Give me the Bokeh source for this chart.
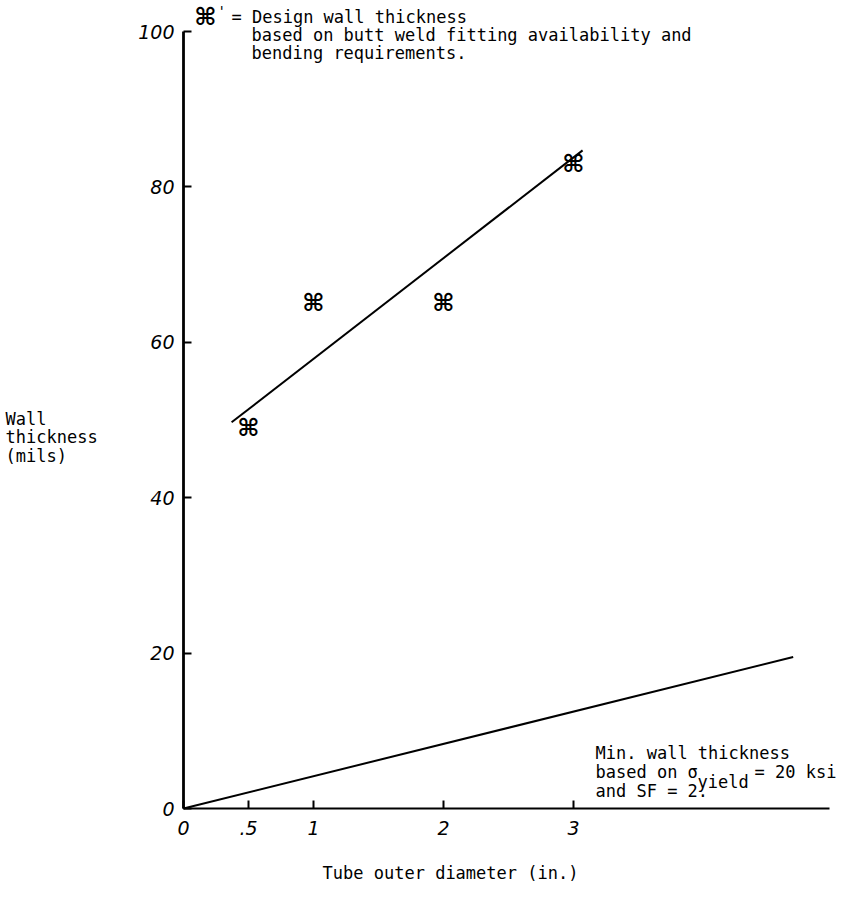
from bokeh.plotting import figure
from bokeh.models import Range1d, FixedTicker, Label, LinearAxis
from bokeh.core.properties import value
from bokeh.embed import file_html
from bokeh.resources import INLINE

# ---- data ----
x_ticks = [0, 0.5, 1, 2, 3]
x_tick_labels = {0: "0", 0.5: ".5", 1: "1", 2: "2", 3: "3"}
y_ticks = [0, 20, 40, 60, 80, 100]
y_tick_labels = {0: "0", 20: "20", 40: "40", 60: "60", 80: "80", 100: "100"}

design_od = [0.5, 1, 2, 3]            # tube outer diameter (in.)
design_wall = [49, 65, 65, 83]        # design wall thickness (mils)

fit_od = [0.37, 3.07]                 # hand-drawn line through design points
fit_wall = [49.7, 84.7]

min_od = [0, 4.69]                    # min. wall thickness, sigma_yield = 20 ksi, SF = 2
min_wall = [0, 19.5]

MONO = "DejaVu Sans Mono"
HAND = "DejaVu Sans"

W, H = 852, 886
X0, Y0 = 183.0, 808.0        # pixel position of the origin
SX, SY = 130.0, 7.77         # pixels per unit

p = figure(width=W, height=H, output_backend="svg", toolbar_location=None,
           x_axis_location=None, y_axis_location=None,
           x_range=Range1d(-X0 / SX, (W - X0) / SX),
           y_range=Range1d((Y0 - H) / SY, Y0 / SY),
           min_border_left=0, min_border_right=0,
           min_border_top=0, min_border_bottom=0)
p.outline_line_color = None
p.grid.visible = False
p.background_fill_color = "white"
p.border_fill_color = "white"

xaxis = LinearAxis(fixed_location=0, bounds=(0, 4.97))
yaxis = LinearAxis(fixed_location=0, bounds=(0, 100))
for ax, ticks, labels in ((xaxis, x_ticks, x_tick_labels),
                          (yaxis, y_ticks, y_tick_labels)):
    ax.ticker = FixedTicker(ticks=ticks)
    ax.major_label_overrides = labels
    ax.axis_line_color = "black"
    ax.major_tick_in = 8
    ax.major_tick_out = 0
    ax.major_tick_line_width = 2
    ax.minor_tick_line_color = None
    ax.major_label_text_font = HAND
    ax.major_label_text_font_style = "italic"
    ax.major_label_text_font_size = "19px"
    ax.major_label_text_color = "black"
xaxis.axis_line_width = 2.2
yaxis.axis_line_width = 2.8
xaxis.major_label_standoff = 12
yaxis.major_label_standoff = 9
p.add_layout(xaxis, "below")
p.add_layout(yaxis, "left")

# lines
p.line(fit_od, fit_wall, line_color="black", line_width=2)
p.line(min_od, min_wall, line_color="black", line_width=2)

# design points
p.text(x=design_od, y=design_wall, text=["\u2318"] * len(design_od),
       text_align="center", text_baseline="middle",
       text_font=value(HAND), text_font_size="24px", text_font_style="bold",
       text_color="black")

# helpers converting reference pixel positions to data positions for annotations
def dx(px):
    return (px - X0) / SX

def dy(py):
    return (Y0 - py) / SY

def add_label(px, py, txt, size="17px", font=MONO, align="left", style="normal"):
    p.add_layout(Label(x=dx(px), y=dy(py), text=txt, text_font=font,
                       text_font_size=size, text_align=align,
                       text_baseline="middle", text_color="black",
                       text_font_style=style))

# legend at the top
add_label(205, 16, "\u2318", size="24px", font=HAND, align="center", style="bold")
add_label(217, 10, "'", size="14px")
add_label(231, 16, "= Design wall thickness")
add_label(251, 34, "based on butt weld fitting availability and")
add_label(251, 52, "bending requirements.")

# y-axis title
add_label(5, 418, "Wall")
add_label(5, 436, "thickness")
add_label(5, 455, "(mils)")

# x-axis title
add_label(450, 872, "Tube outer diameter (in.)", align="center")

# note on the lower line
add_label(595, 752, "Min. wall thickness")
add_label(595, 771, "based on \u03c3")
add_label(697, 781, "yield")
add_label(754, 771, "= 20 ksi")
add_label(595, 790, "and SF = 2.")

open("out.html", "w").write(file_html(p, INLINE))
